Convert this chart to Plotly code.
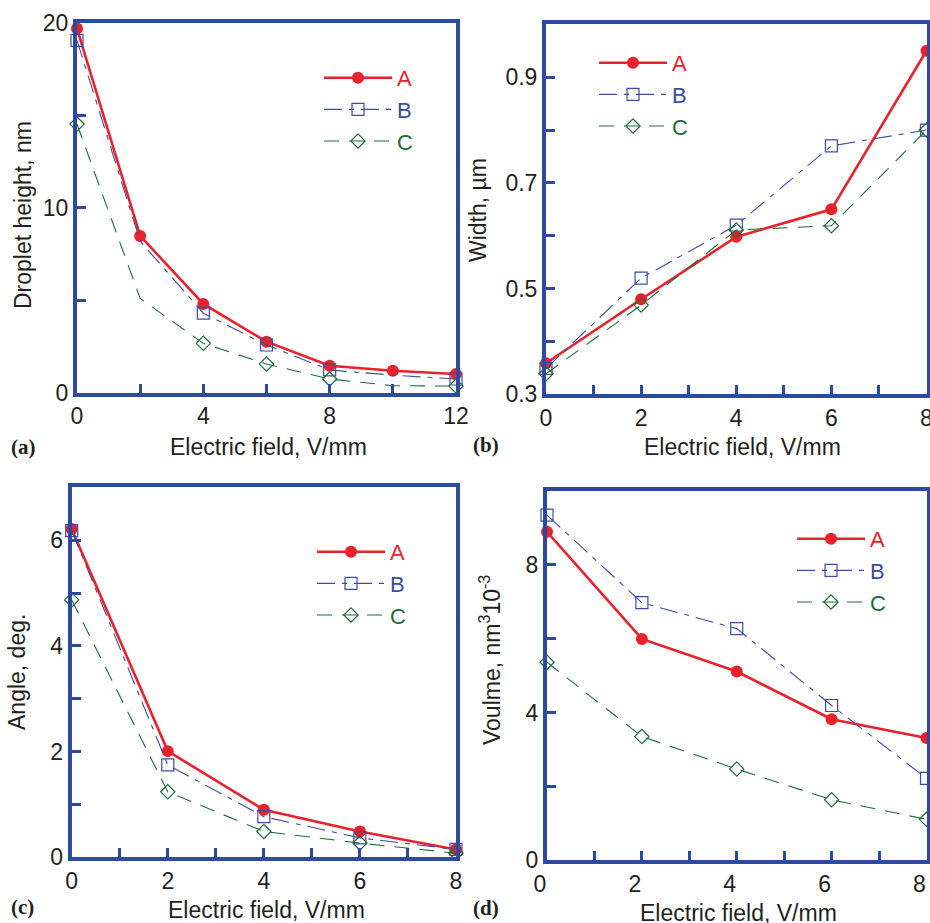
import plotly.graph_objects as go

# ---------------- data ----------------
# (a) Droplet height
a_x_A = [0, 2, 4, 6, 8, 10, 12]
a_A = [19.7, 8.48, 4.8, 2.76, 1.46, 1.19, 1.01]
a_x_B = [0, 2, 4, 6, 8, 10, 12]
a_B = [19.06, 8.2, 4.3, 2.58, 1.23, 0.95, 0.74]
a_x_C = [0, 2, 4, 6, 8, 10, 12]
a_C = [14.53, 5.1, 2.67, 1.55, 0.74, 0.38, 0.36]
# points of B and C in (a) that carry a symbol
a_marked_BC = [0, 4, 6, 8, 12]

# (b) Width
b_x = [0, 2, 4, 6, 8]
b_A = [0.359, 0.48, 0.598, 0.65, 0.95]
b_B = [0.349, 0.52, 0.62, 0.77, 0.80]
b_C = [0.339, 0.469, 0.611, 0.619, 0.80]

# (c) Angle
c_x = [0, 2, 4, 6, 8]
c_A = [6.21, 2.01, 0.90, 0.49, 0.15]
c_B = [6.18, 1.75, 0.77, 0.37, 0.15]
c_C = [4.87, 1.24, 0.49, 0.27, 0.08]

# (d) Volume
d_x = [0, 2, 4, 6, 8]
d_A = [8.89, 5.99, 5.11, 3.82, 3.31]
d_B = [9.34, 6.97, 6.27, 4.19, 2.22]
d_C = [5.36, 3.35, 2.47, 1.64, 1.11]

series_names = ["A", "B", "C"]

# tick labels
a_xticks = [0, 2, 4, 6, 8, 10, 12]
a_xtext = ["0", "", "4", "", "8", "", "12"]
a_yticks = [0, 5, 10, 15, 20]
a_ytext = ["0", "", "10", "", "20"]
b_xticks = [0, 1, 2, 3, 4, 5, 6, 7, 8]
b_xtext = ["0", "", "2", "", "4", "", "6", "", "8"]
b_yticks = [0.3, 0.4, 0.5, 0.6, 0.7, 0.8, 0.9]
b_ytext = ["0.3", "", "0.5", "", "0.7", "", "0.9"]
c_yticks = [0, 1, 2, 3, 4, 5, 6]
c_ytext = ["0", "", "2", "", "4", "", "6"]
d_yticks = [0, 2, 4, 6, 8]
d_ytext = ["0", "", "4", "", "8"]

x_title = "Electric field, V/mm"
y_titles = ["Droplet height, nm", "Width, \u00b5m", "Angle, deg.",
            "Voulme, nm<sup>3</sup>10<sup>-3</sup>"]
panel_labels = ["(a)", "(b)", "(c)", "(d)"]

# ---------------- style ----------------
W, H = 930, 923
FRAME = "#2E4A9E"
RED = "#E8212B"
BLUE = "#3A4DA3"
GREEN = "#1E6B3A"
TXT = "#231F20"
FONT = "Liberation Sans, Arial, sans-serif"

def fx(px):
    return px / W

def fy(py):
    return 1 - py / H

def px_dom_x(x0, x1):
    return [fx(x0), fx(x1)]

def px_dom_y(ytop, ybot):
    return [fy(ybot), fy(ytop)]

panels = [
    dict(xd=px_dom_x(77, 456), yd=px_dom_y(23, 392.7), xr=[0, 12], yr=[0, 20],
         xt=a_xticks, xtt=a_xtext, yt=a_yticks, ytt=a_ytext),
    dict(xd=px_dom_x(546, 926.5), yd=px_dom_y(24.3, 394.4), xr=[0, 8], yr=[0.3, 1.0],
         xt=b_xticks, xtt=b_xtext, yt=b_yticks, ytt=b_ytext),
    dict(xd=px_dom_x(71.7, 456), yd=px_dom_y(487.3, 857.4), xr=[0, 8], yr=[0, 7],
         xt=b_xticks, xtt=b_xtext, yt=c_yticks, ytt=c_ytext),
    dict(xd=px_dom_x(547, 926.5), yd=px_dom_y(490.7, 860.4), xr=[0, 8], yr=[0, 10],
         xt=b_xticks, xtt=b_xtext, yt=d_yticks, ytt=d_ytext),
]

fig = go.Figure()

data_sets = [
    [(a_x_A, a_A), (a_x_B, a_B), (a_x_C, a_C)],
    [(b_x, b_A), (b_x, b_B), (b_x, b_C)],
    [(c_x, c_A), (c_x, c_B), (c_x, c_C)],
    [(d_x, d_A), (d_x, d_B), (d_x, d_C)],
]
colors = [RED, BLUE, GREEN]
line_styles = [
    dict(color=RED, width=2.6, dash="solid"),
    dict(color=BLUE, width=1.1, dash="18px,7px,5px,7px"),
    dict(color=GREEN, width=1.1, dash="15px,10px"),
]
markers = [
    dict(symbol="circle", size=12, color=RED, line=dict(width=0)),
    dict(symbol="square-open", size=12, color=BLUE, line=dict(width=1.2, color=BLUE)),
    dict(symbol="diamond-open", size=11, color=GREEN, line=dict(width=1.2, color=GREEN)),
]

for i, p in enumerate(panels):
    sfx = "" if i == 0 else str(i + 1)
    lg = "legend" if i == 0 else "legend" + str(i + 1)
    for k in range(3):
        xs, ys = data_sets[i][k]
        extra = {}
        if i == 0 and k > 0:
            # in panel (a) curves B and C carry no symbol at 2 and 10 V/mm
            extra = dict(
                selectedpoints=[j for j, xv in enumerate(xs) if xv in a_marked_BC],
                selected=dict(marker=dict(opacity=1)),
                unselected=dict(marker=dict(opacity=0)),
            )
        fig.add_trace(go.Scatter(
            x=xs, y=ys, mode="lines+markers",
            name='<span style="color:%s">%s</span>' % (colors[k], series_names[k]),
            line=line_styles[k], marker=markers[k],
            xaxis="x" + sfx, yaxis="y" + sfx, legend=lg, cliponaxis=False,
            **extra,
        ))
    common = dict(showline=True, linewidth=4, linecolor=FRAME, mirror=True,
                  ticks="inside", ticklen=9, tickwidth=3, tickcolor=FRAME,
                  showgrid=False, zeroline=False, automargin=False,
                  ticklabeloverflow="allow",
                  tickfont=dict(family=FONT, size=23, color=TXT))
    fig.layout["xaxis" + sfx] = dict(domain=p["xd"], range=p["xr"], anchor="y" + sfx,
                                     tickmode="array", tickvals=p["xt"], ticktext=p["xtt"],
                                     **common)
    fig.layout["yaxis" + sfx] = dict(domain=p["yd"], range=p["yr"], anchor="x" + sfx,
                                     tickmode="array", tickvals=p["yt"], ticktext=p["ytt"],
                                     **common)

fig.layout["xaxis4"]["ticklabelshift"] = -7

# legends: (left px, top px) in window pixels
legend_pos = [(319, 57), (594, 42), (312, 531), (792, 518)]
for i, (lx, ly) in enumerate(legend_pos):
    key = "legend" if i == 0 else "legend" + str(i + 1)
    fig.layout[key] = dict(x=fx(lx), y=fy(ly), xanchor="left", yanchor="top",
                           bgcolor="rgba(0,0,0,0)", borderwidth=0,
                           font=dict(family=FONT, size=22, color=TXT),
                           itemwidth=68, tracegroupgap=0)

ann = []
xt_pos = [(268, 447), (742, 447), (266, 910), (738, 913)]
yt_pos = [(23, 215), (478, 210), (17, 672), (490, 660)]
pl_pos = [(23, 447), (486, 445), (22, 907), (486, 908)]
for i in range(4):
    ann.append(dict(text=x_title, x=fx(xt_pos[i][0]), y=fy(xt_pos[i][1]),
                    xref="paper", yref="paper", showarrow=False,
                    xanchor="center", yanchor="middle",
                    font=dict(family=FONT, size=23, color=TXT)))
    ann.append(dict(text=y_titles[i], x=fx(yt_pos[i][0]), y=fy(yt_pos[i][1]),
                    xref="paper", yref="paper", showarrow=False, textangle=-90,
                    xanchor="center", yanchor="middle",
                    font=dict(family=FONT, size=23, color=TXT)))
    ann.append(dict(text="<b>%s</b>" % panel_labels[i], x=fx(pl_pos[i][0]),
                    y=fy(pl_pos[i][1]), xref="paper", yref="paper",
                    showarrow=False, xanchor="center", yanchor="middle",
                    font=dict(family="Liberation Serif, Times New Roman, serif",
                              size=21, color=TXT)))

fig.update_layout(width=W, height=H, margin=dict(l=0, r=0, t=0, b=0, autoexpand=False),
                  paper_bgcolor="white", plot_bgcolor="white",
                  showlegend=True, annotations=ann)

fig.write_html(
    "out.html",
    config={"displayModeBar": False},
    post_script=("document.body.style.margin='0';"
                 "document.body.style.overflow='hidden';"
                 "document.documentElement.style.overflow='hidden';"),
)
